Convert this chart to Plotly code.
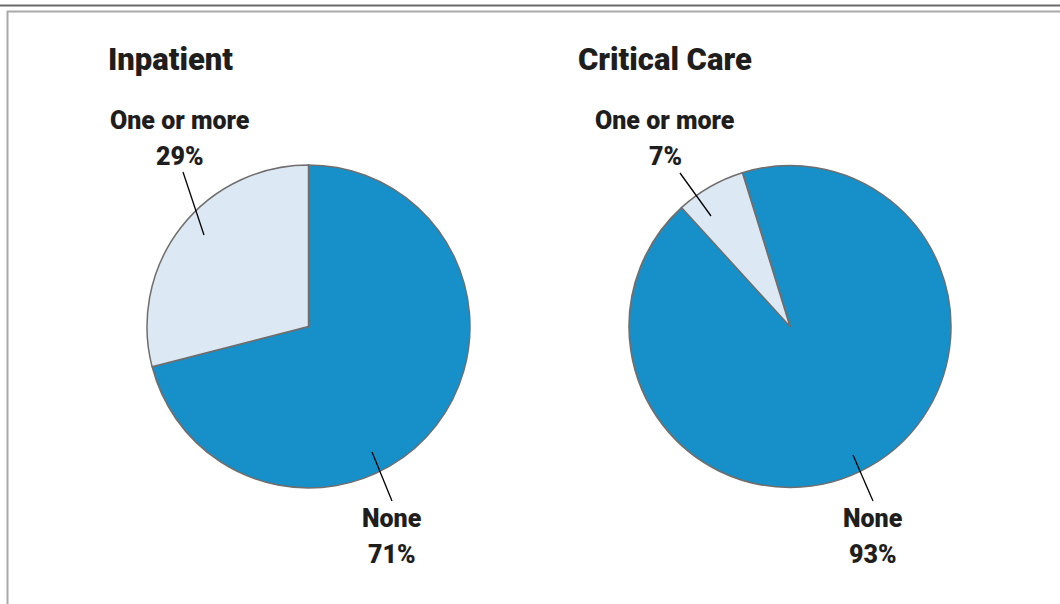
import plotly.graph_objects as go

W, H = 1060, 604

# Survey shares per care setting
panels = ["Inpatient", "Critical Care"]
categories = ["None", "One or more"]
inpatient_pct = [71, 29]
critical_pct = [93, 7]

BLUE = "#1790c9"
LIGHT = "#dce8f3"
EDGE = "#6e6e6e"
INK = "#1e1e1e"
FONT = "Roboto, Arial Narrow, sans-serif"


def px(x):
    return x / W


def py(y):
    return 1 - y / H


fig = go.Figure()

# Pie geometry (pixel centre, radius) and start rotation for each panel
pie_specs = [
    (inpatient_pct, 308.5, 326.5, 161.5, 0),
    (critical_pct, 790.0, 326.5, 161.0, -17.2),
]
for vals, cx, cy, r, rot in pie_specs:
    fig.add_trace(go.Pie(
        labels=categories,
        values=vals,
        sort=False,
        direction="clockwise",
        rotation=rot,
        marker=dict(colors=[BLUE, LIGHT], line=dict(color=EDGE, width=1.5)),
        textinfo="none",
        hoverinfo="label+percent",
        showlegend=False,
        domain=dict(x=[px(cx - r), px(cx + r)], y=[py(cy + r), py(cy - r)]),
    ))

ann = []

# Panel titles
for title, x0 in zip(panels, [106, 576]):
    ann.append(dict(text=title, x=px(x0), y=py(60), xanchor="left",
                    yanchor="middle", font=dict(size=31, color=INK, family=FONT, weight=900)))

# Slice labels: (name, value, label centre x, name y, value y, leader from, leader to)
label_specs = [
    ("One or more", inpatient_pct[1], 180, 121, 157, (183, 172), (204, 235)),
    ("None", inpatient_pct[0], 392, 518, 554, (372, 452), (392, 501)),
    ("One or more", critical_pct[1], 665, 121, 157, (680, 173), (711, 216)),
    ("None", critical_pct[0], 873, 518, 554, (853, 455), (873, 501)),
]
shapes = []
for name, val, lx, ny, vy, p0, p1 in label_specs:
    ann.append(dict(text=name, x=px(lx), y=py(ny), xanchor="center",
                    yanchor="middle", font=dict(size=25, color=INK, family=FONT, weight=900)))
    ann.append(dict(text=f"{val}%", x=px(lx), y=py(vy), xanchor="center",
                    yanchor="middle", font=dict(size=25, color=INK, family=FONT, weight=900)))
    shapes.append(dict(type="line", xref="paper", yref="paper",
                       x0=px(p0[0]), y0=py(p0[1]), x1=px(p1[0]), y1=py(p1[1]),
                       line=dict(color="#000000", width=1.3)))

for a in ann:
    a.update(xref="paper", yref="paper", showarrow=False)

# Frame rules: dark top rule, lighter inner top and left rules
shapes += [
    dict(type="line", xref="paper", yref="paper", x0=0, x1=1, y0=py(5.5), y1=py(5.5),
         line=dict(color="#6a6a6a", width=2)),
    dict(type="line", xref="paper", yref="paper", x0=px(7), x1=1, y0=py(11.5), y1=py(11.5),
         line=dict(color="#a9a9a9", width=2)),
    dict(type="line", xref="paper", yref="paper", x0=px(7.5), x1=px(7.5), y0=py(11), y1=0,
         line=dict(color="#a9a9a9", width=2)),
]

fig.update_layout(
    width=W, height=H,
    margin=dict(l=0, r=0, t=0, b=0),
    paper_bgcolor="white",
    plot_bgcolor="white",
    annotations=ann,
    shapes=shapes,
)

fig.write_html("out.html")
